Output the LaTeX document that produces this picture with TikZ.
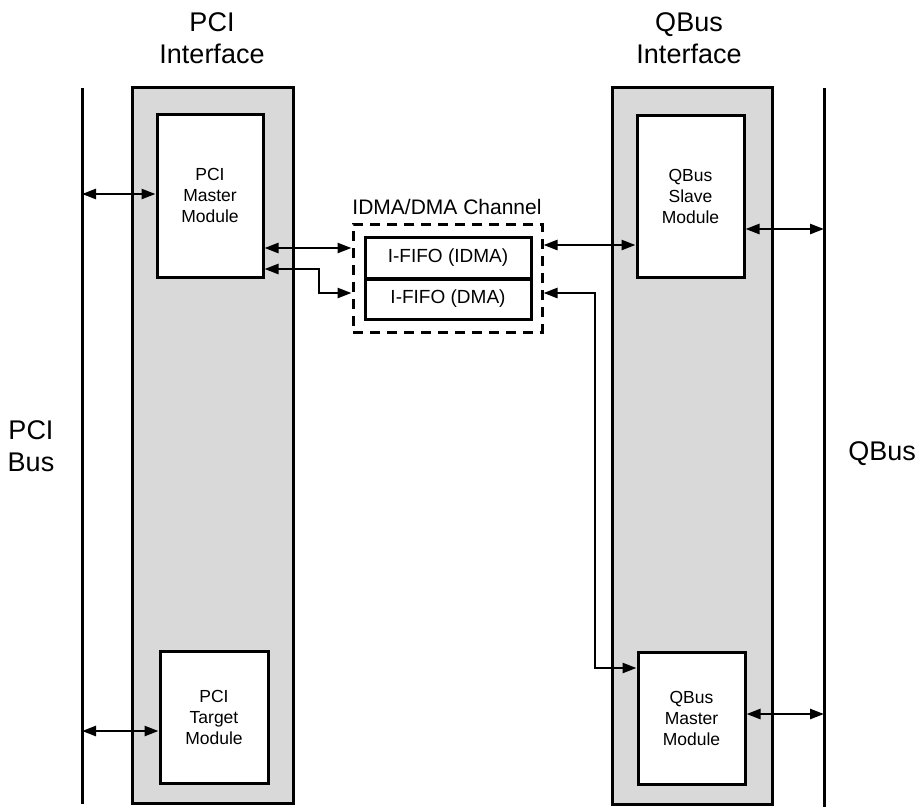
\documentclass[tikz,border=0pt]{standalone}
\usepackage{fontspec}
\setmainfont{Liberation Sans}
\usetikzlibrary{arrows.meta,calc}
\definecolor{ifgray}{HTML}{D9D9D9}
\tikzset{
  ifbox/.style={draw=black, line width=3pt, fill=ifgray},
  modbox/.style={draw=black, line width=3pt, fill=white, align=center, inner sep=0pt,
     font=\fontsize{17.5}{21}\selectfont},
  fifobox/.style={draw=black, line width=3pt, fill=white, inner sep=0pt,
     font=\fontsize{19}{22}\selectfont, minimum width=166pt, minimum height=41pt},
  busline/.style={line width=3pt},
  biarrow/.style={line width=2.5pt, {Triangle[length=14pt,width=10pt]}-{Triangle[length=14pt,width=10pt]}},
  biglabel/.style={align=center, font=\fontsize{27}{32}\selectfont, inner sep=0pt},
}
\begin{document}
\begin{tikzpicture}[x=1pt,y=-1pt]
\useasboundingbox (0,0) rectangle (917,807);
% buses
\coordinate (pbT) at (82,88);
\coordinate (pbB) at (82,804);
\coordinate (qbT) at (824,88);
\coordinate (qbB) at (824,807);
\draw[busline] (pbT) -- (pbB);
\draw[busline] (qbT) -- (qbB);
% interface blocks
\node[ifbox, minimum width=161pt, minimum height=716pt, inner sep=0pt] (pif) at (212.5,445.5) {};
\node[ifbox, minimum width=160pt, minimum height=717pt, inner sep=0pt] (qif) at (692,446) {};
% modules
\node[modbox, minimum width=106pt, minimum height=163pt] (pm) at (210,195.5) {PCI\\Master\\Module};
\node[modbox, minimum width=108pt, minimum height=132pt] (pt) at (214,717) {PCI\\Target\\Module};
\node[modbox, minimum width=107pt, minimum height=162pt] (qs) at (690.5,196) {QBus\\Slave\\Module};
\node[modbox, minimum width=107pt, minimum height=132pt] (qm) at (691.5,718) {QBus\\Master\\Module};
% channel
\node[draw=black, line width=3pt, dash pattern=on 10pt off 7pt, minimum width=189pt, minimum height=108pt, inner sep=0pt] (ch) at (447.5,278) {};
\node[fifobox] (f1) at (448,258) {I-FIFO (IDMA)};
\node[fifobox, minimum height=40pt] (f2) at (448,299) {I-FIFO (DMA)};
\node[font=\fontsize{21}{24}\selectfont, inner sep=0pt] (chl) at (447,207) {IDMA/DMA Channel};
% labels
\node[biglabel] (pifl) at (212,38) {PCI\\Interface};
\node[biglabel] (qifl) at (689,38) {QBus\\Interface};
\node[biglabel] (pbl) at (31,446) {PCI\\Bus};
\node[biglabel] (qbl) at (882,454) {QBus};
% connectors
\coordinate (a1) at (0,194);
\draw[biarrow] (pbT |- a1) -- (pm.west |- a1);
\coordinate (a2) at (0,731);
\draw[biarrow] (pbT |- a2) -- (pt.west |- a2);
\coordinate (a3) at (0,248);
\draw[biarrow] (pm.east |- a3) -- (ch.west |- a3);
\coordinate (a4) at (319,269);
\coordinate (a4b) at (319,293);
\draw[biarrow] (ch.west |- a4b) -- (a4b) -- (a4) -- (pm.east |- a4);
\coordinate (a5) at (0,245);
\draw[biarrow] (ch.east |- a5) -- (qs.west |- a5);
\coordinate (a6) at (595,293);
\coordinate (a6b) at (595,668);
\draw[biarrow] (ch.east |- a6) -- (a6) -- (a6b) -- (qm.west |- a6b);
\coordinate (a7) at (0,229);
\draw[biarrow] (qs.east |- a7) -- (qbT |- a7);
\coordinate (a8) at (0,714);
\draw[biarrow] (qm.east |- a8) -- (qbT |- a8);
\end{tikzpicture}
\end{document}
